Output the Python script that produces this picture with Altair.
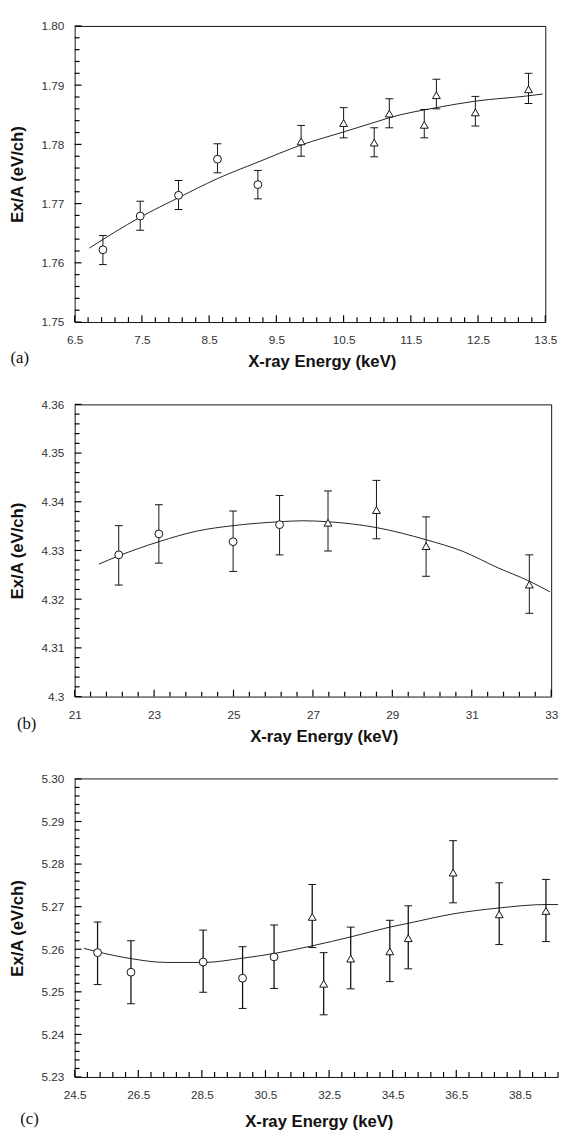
import altair as alt
import pandas as pd

# ---------------- data ----------------
# panel (a)
a_circ_x = [6.92, 7.475, 8.045, 8.624, 9.225]
a_circ_y = [1.7622, 1.7679, 1.7714, 1.7775, 1.7732]
a_circ_lo = [1.7597, 1.7655, 1.7690, 1.7752, 1.7708]
a_circ_hi = [1.7646, 1.7704, 1.7739, 1.7801, 1.7756]
a_tri_x = [9.868, 10.50, 10.955, 11.18, 11.70, 11.88, 12.46, 13.25]
a_tri_y = [1.7805, 1.7836, 1.7803, 1.7852, 1.7833, 1.7883, 1.7854, 1.7893]
a_tri_lo = [1.7780, 1.7811, 1.7779, 1.7828, 1.7811, 1.7860, 1.7831, 1.7869]
a_tri_hi = [1.7832, 1.7862, 1.7828, 1.7877, 1.7859, 1.7910, 1.7881, 1.7920]
a_fit_x = [6.72, 7.475, 8.045, 8.62, 9.225, 9.87, 10.5, 10.955, 11.18, 11.88, 12.46, 13.25, 13.46]
a_fit_y = [1.7625, 1.7677, 1.7710, 1.7742, 1.7770, 1.7799, 1.7821, 1.7837, 1.7845, 1.7862, 1.7873, 1.7882, 1.7885]

# panel (b)
b_circ_x = [22.11, 23.12, 24.99, 26.16]
b_circ_y = [4.3291, 4.3334, 4.3318, 4.3353]
b_circ_lo = [4.3229, 4.3274, 4.3257, 4.3291]
b_circ_hi = [4.3351, 4.3394, 4.3381, 4.3413]
b_tri_x = [27.38, 28.60, 29.85, 32.45]
b_tri_y = [4.3357, 4.3383, 4.3309, 4.3230]
b_tri_lo = [4.3299, 4.3324, 4.3247, 4.3171]
b_tri_hi = [4.3422, 4.3444, 4.3369, 4.3291]
b_fit_x = [21.61, 22.11, 23.12, 24.09, 24.99, 26.16, 26.74, 27.38, 28.6, 29.85, 30.78, 31.67, 32.45, 32.97]
b_fit_y = [4.3272, 4.3289, 4.3318, 4.3340, 4.3351, 4.3359, 4.3361, 4.3359, 4.3347, 4.3322, 4.3298, 4.3264, 4.3237, 4.3215]

# panel (c)
c_circ_x = [25.22, 26.27, 28.54, 29.78, 30.77]
c_circ_y = [5.2592, 5.2546, 5.2570, 5.2532, 5.2582]
c_circ_lo = [5.2517, 5.2472, 5.2499, 5.2461, 5.2508]
c_circ_hi = [5.2664, 5.2620, 5.2645, 5.2606, 5.2657]
c_tri_x = [31.97, 32.33, 33.18, 34.41, 34.99, 36.40, 37.85, 39.32]
c_tri_y = [5.2676, 5.2519, 5.2578, 5.2595, 5.2626, 5.2780, 5.2682, 5.2690]
c_tri_lo = [5.2604, 5.2446, 5.2507, 5.2524, 5.2554, 5.2709, 5.2611, 5.2618]
c_tri_hi = [5.2752, 5.2592, 5.2652, 5.2668, 5.2702, 5.2855, 5.2756, 5.2764]
c_fit_x = [24.79, 25.22, 26.27, 27.38, 28.54, 29.78, 30.77, 31.97, 33.18, 34.41, 34.99, 36.40, 37.85, 39.32, 39.7]
c_fit_y = [5.2602, 5.2594, 5.2578, 5.2569, 5.2569, 5.2579, 5.2590, 5.2608, 5.2629, 5.2652, 5.2661, 5.2683, 5.2697, 5.2705, 5.2705]

X_TITLE = "X-ray Energy (keV)"
Y_TITLE = "Ex/A (eV/ch)"
FONT = "Liberation Sans"
SERIF = "Liberation Serif"
INK = "#111111"


def tick_values(start, stop, step):
    n = int(round((stop - start) / step))
    return [round(start + i * step, 4) for i in range(n + 1)]


def is_major(v, origin, step):
    q = (v - origin) / step
    return abs(q - round(q)) < 1e-6


def panel(label, cx, cy, clo, chi, tx, ty, tlo, thi, fx, fy,
          xdom, ydom, xt, yt, xmaj, ymaj, xfmt, yfmt,
          W, H, lab_dx, lab_dy, xtitle_pad, xtitle_x, err_w, open_right=False):
    xs = alt.Scale(domain=xdom, nice=False, zero=False)
    ys = alt.Scale(domain=ydom, nice=False, zero=False)

    xt_major = [v for v in xt if is_major(v, xdom[0], xmaj)]
    yt_major = [v for v in yt if is_major(v, ydom[0], ymaj)]

    common = dict(
        ticks=False, grid=False, domain=open_right,
        domainColor=INK, domainWidth=1,
        labelFlush=False, labelOverlap=False,
        labelFont=FONT, labelFontSize=12, labelColor="#333",
        titleFont=FONT, titleFontSize=17, titleFontWeight="bold",
        titleColor=INK,
    )
    x_axis = alt.Axis(title=X_TITLE, values=xt_major, format=xfmt,
                      labelPadding=13, titlePadding=xtitle_pad,
                      titleX=xtitle_x, **common)
    y_axis = alt.Axis(title=Y_TITLE, values=yt_major, format=yfmt,
                      labelPadding=11, titlePadding=15, **common)
    X = alt.X("x:Q", scale=xs, axis=x_axis)
    Y = alt.Y("y:Q", scale=ys, axis=y_axis)

    # inward tick marks (length in data units = pixels * units-per-pixel)
    ypx = (ydom[1] - ydom[0]) / H
    xpx = (xdom[1] - xdom[0]) / W
    xt_len = [7 if is_major(v, xdom[0], xmaj) else 5 for v in xt]
    yt_len = [7 if is_major(v, ydom[0], ymaj) else 5 for v in yt]
    df_xt = pd.DataFrame({"x": xt, "y": [ydom[0]] * len(xt),
                          "y2": [ydom[0] + n * ypx for n in xt_len]})
    df_yt = pd.DataFrame({"y": yt, "x": [xdom[0]] * len(yt),
                          "x2": [xdom[0] + n * xpx for n in yt_len]})
    xticks = alt.Chart(df_xt).mark_rule(color="black", strokeWidth=1.2).encode(
        x=X, y=Y, y2="y2:Q")
    yticks = alt.Chart(df_yt).mark_rule(color="black", strokeWidth=1.2).encode(
        x=X, x2="x2:Q", y=Y)

    all_x = cx + tx
    df_err = pd.DataFrame({"x": all_x, "y": clo + tlo, "y2": chi + thi})
    df_caps = pd.DataFrame({"x": all_x + all_x, "y": clo + tlo + chi + thi})
    df_circ = pd.DataFrame({"x": cx, "y": cy})
    df_tri = pd.DataFrame({"x": tx, "y": ty})
    df_fit = pd.DataFrame({"x": fx, "y": fy})

    fit = alt.Chart(df_fit).mark_line(color="#222", strokeWidth=1, clip=True,
                                      interpolate="monotone").encode(x=X, y=Y)
    err = alt.Chart(df_err).mark_rule(color=INK, strokeWidth=err_w).encode(
        x=X, y=Y, y2="y2:Q")
    caps = alt.Chart(df_caps).mark_tick(orient="horizontal", size=8, thickness=1,
                                        color=INK, opacity=1).encode(x=X, y=Y)
    circ = alt.Chart(df_circ).mark_point(shape="circle", filled=True, fill="white",
                                         stroke=INK, strokeWidth=1, size=64,
                                         opacity=1).encode(x=X, y=Y)
    tri = alt.Chart(df_tri).mark_point(shape="triangle-up", filled=True, fill="white",
                                       stroke=INK, strokeWidth=1, size=64,
                                       opacity=1).encode(x=X, y=Y)
    txt = alt.Chart(pd.DataFrame({"t": [label]})).mark_text(
        font=SERIF, fontSize=17, align="center", baseline="middle", color=INK
    ).encode(text="t:N", x=alt.value(lab_dx), y=alt.value(H + lab_dy))

    layers = [xticks, yticks, fit, err, caps, circ, tri, txt]
    if open_right:
        top = alt.Chart(pd.DataFrame({"b": [0]})).mark_rule(
            color=INK, strokeWidth=1).encode(y=alt.value(0))
        layers.append(top)
        return alt.layer(*layers).properties(
            width=W, height=H,
            view=alt.ViewBackground(stroke="transparent"))
    return alt.layer(*layers).properties(width=W, height=H)


pa = panel("(a)", a_circ_x, a_circ_y, a_circ_lo, a_circ_hi,
           a_tri_x, a_tri_y, a_tri_lo, a_tri_hi, a_fit_x, a_fit_y,
           [6.5, 13.5], [1.75, 1.80],
           tick_values(6.5, 13.5, 0.2), tick_values(1.75, 1.80, 0.002),
           1, 0.01, ".1f", ".2f",
           480, 302, -56, 37, 8.5, 252, 1)

pb = panel("(b)", b_circ_x, b_circ_y, b_circ_lo, b_circ_hi,
           b_tri_x, b_tri_y, b_tri_lo, b_tri_hi, b_fit_x, b_fit_y,
           [21, 33], [4.30, 4.36],
           tick_values(21, 33, 0.4), tick_values(4.30, 4.36, 0.002),
           2, 0.01, "d", ".2~f",
           486, 298, -49, 28, 8.5, 254, 1)

pc = panel("(c)", c_circ_x, c_circ_y, c_circ_lo, c_circ_hi,
           c_tri_x, c_tri_y, c_tri_lo, c_tri_hi, c_fit_x, c_fit_y,
           [24.5, 39.7], [5.23, 5.30],
           tick_values(24.5, 39.7, 0.4), tick_values(5.23, 5.30, 0.002),
           2, 0.01, ".1f", ".2f",
           493, 304, -46, 43, 13.5, 249, 1.3, open_right=True)

chart = alt.vconcat(pa, pb, pc, spacing=28).properties(
    padding=0
).configure_view(stroke=INK, strokeWidth=1)

chart.save("out.html", embed_options={"renderer": "svg", "actions": False})
